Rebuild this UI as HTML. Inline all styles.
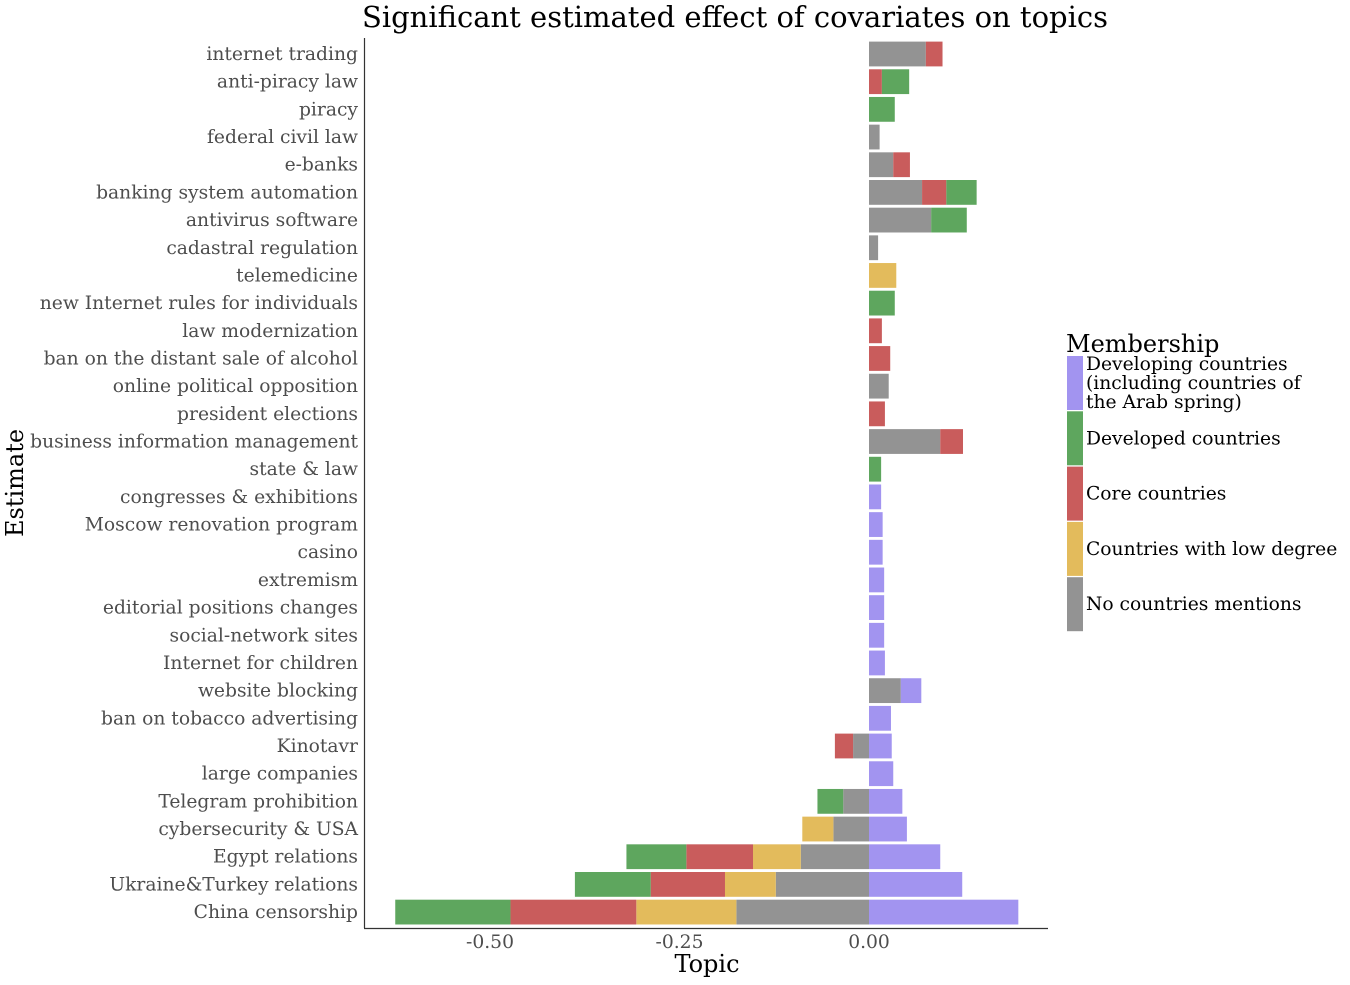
<!DOCTYPE html>
<html><head><meta charset="utf-8"><style>
body{margin:0;background:#fff}
svg text{font-family:"DejaVu Serif","Liberation Serif",serif}
</style></head><body>
<svg id="c" width="1350" height="980">
<text x="735" y="27" font-size="29" text-anchor="middle">Significant estimated effect of covariates on topics</text>
<text x="707" y="972" font-size="24" text-anchor="middle">Topic</text>
<text transform="translate(23,483) rotate(-90)" font-size="24" text-anchor="middle">Estimate</text>
<g id="plot"></g>
<g id="legend"><text x="1066" y="352" font-size="24">Membership</text></g>
</svg>
<script>
const categories=["internet trading","anti-piracy law","piracy","federal civil law","e-banks","banking system automation","antivirus software","cadastral regulation","telemedicine","new Internet rules for individuals","law modernization","ban on the distant sale of alcohol","online political opposition","president elections","business information management","state & law","congresses & exhibitions","Moscow renovation program","casino","extremism","editorial positions changes","social-network sites","Internet for children","website blocking","ban on tobacco advertising","Kinotavr","large companies","Telegram prohibition","cybersecurity & USA","Egypt relations","Ukraine&Turkey relations","China censorship"];
const noMention=[0.075,0,0,0.014,0.032,0.07,0.082,0.012,0,0,0,0,0.026,0,0.094,0,0,0,0,0,0,0,0,0.042,0,-0.021,0,-0.034,-0.047,-0.090,-0.123,-0.175];
const lowDegree=[0,0,0,0,0,0,0,0,0.036,0,0,0,0,0,0,0,0,0,0,0,0,0,0,0,0,0,0,0,-0.041,-0.063,-0.067,-0.132];
const core=[0.022,0.017,0,0,0.022,0.032,0,0,0,0,0.017,0.028,0,0.021,0.030,0,0,0,0,0,0,0,0,0,0,-0.024,0,0,0,-0.088,-0.098,-0.166];
const developed=[0,0.036,0.034,0,0,0.04,0.047,0,0,0.034,0,0,0,0,0,0.016,0,0,0,0,0,0,0,0,0,0,0,-0.034,0,-0.079,-0.100,-0.152];
const developing=[0,0,0,0,0,0,0,0,0,0,0,0,0,0,0,0,0.016,0.018,0.018,0.02,0.02,0.02,0.021,0.027,0.029,0.030,0.032,0.044,0.05,0.094,0.123,0.197];
const xTicks=[-0.5,-0.25,0];
const xTickLabels=["-0.50","-0.25","0.00"];
const seriesNames=["Developing countries","Developed countries","Core countries","Countries with low degree","No countries mentions"];
const NS="http://www.w3.org/2000/svg";
const x=v=>869+v*758;
const y=i=>54+i*27.68;
const plot=document.getElementById('plot');
function mk(t,a,p){const e=document.createElementNS(NS,t);for(const k in a)e.setAttribute(k,a[k]);(p||plot).appendChild(e);return e;}
const series=[{v:noMention,c:"#939393",n:"none"},{v:lowDegree,c:"#e3bb5c",n:"low"},{v:core,c:"#c95c5c",n:"core"},{v:developed,c:"#5ea65e",n:"developed"},{v:developing,c:"#a294f0",n:"developing"}];
categories.forEach((cat,i)=>{
  let pos=0,neg=0;
  series.forEach(s=>{
    const v=s.v[i]; if(!v) return;
    let a,b;
    if(v>0){a=pos;b=pos+v;pos=b;}else{a=neg+v;b=neg;neg=a;}
    const r=mk('rect',{x:x(a),y:y(i)-12.4,width:x(b)-x(a),height:24.8,fill:s.c});
    
    
  });
  const t=mk('text',{x:358,y:y(i)+6,'font-size':18.7,fill:'#4d4d4d','text-anchor':'end'});
  t.textContent=cat;
  
  
});
const ya=mk('line',{x1:364.5,y1:38,x2:364.5,y2:928,stroke:'#333','stroke-width':1.2});


const xa=mk('line',{x1:364,y1:928.5,x2:1048,y2:928.5,stroke:'#333','stroke-width':1.2});


xTicks.forEach((v,i)=>{
  const t=mk('text',{x:x(v),y:948,'font-size':18.7,fill:'#4d4d4d','text-anchor':'middle'});
  t.textContent=xTickLabels[i];
  
  
});
const lg=document.getElementById('legend');
const lcols=["#a294f0","#5ea65e","#c95c5c","#e3bb5c","#939393"];
const llabels=[["Developing countries","(including countries of","the Arab spring)"],["Developed countries"],["Core countries"],["Countries with low degree"],["No countries mentions"]];
lcols.forEach((c,i)=>{
  const top=356+i*55.3;
  const r=mk('rect',{x:1067,y:top,width:16,height:54,fill:c},lg);
  
  
  const L=llabels[i];
  const base=top+27-(L.length-1)*9.5+6;
  L.forEach((s,j)=>{
    const t=mk('text',{x:1086,y:base+j*19,'font-size':18.7},lg);
    t.textContent=s;
    
    
  });
});
</script>
</body></html>
